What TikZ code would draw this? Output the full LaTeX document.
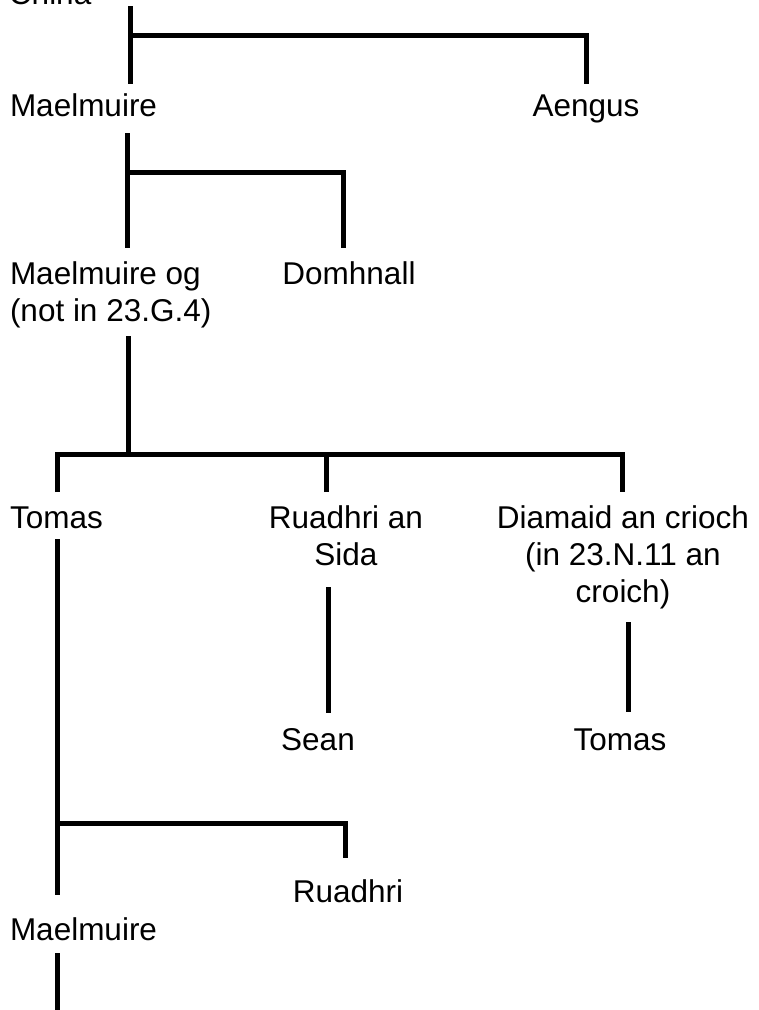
\documentclass[tikz,border=0pt]{standalone}
\usepackage{fontspec}
\setmainfont{Liberation Sans}
\newfontfamily\persfont{Liberation Sans}
\begin{document}
\begin{tikzpicture}[x=1pt,y=-1pt,
  lbl/.style={inner sep=0pt, outer sep=0pt, font=\persfont\fontsize{31.5}{37}\selectfont},
  tie/.style={line width=5pt, black}]
\useasboundingbox (0,0) rectangle (759,1010);
% people
\node[lbl, anchor=base west] (china) at (9,4) {China};
\node[lbl, anchor=base west] (mael1) at (10,116) {Maelmuire};
\node[lbl, anchor=base] (aengus) at (586,116) {Aengus};
\node[lbl, anchor=base west] (maelog) at (10,284) {\begin{tabular}[t]{@{}l@{}}Maelmuire og\\(not in 23.G.4)\end{tabular}};
\node[lbl, anchor=base] (domh) at (349,284) {Domhnall};
\node[lbl, anchor=base west] (tomas1) at (10,528) {Tomas};
\node[lbl, anchor=base] (ruasida) at (346,528) {\begin{tabular}[t]{@{}c@{}}Ruadhri an\\Sida\end{tabular}};
\node[lbl, anchor=base] (diam) at (623,528) {\begin{tabular}[t]{@{}c@{}}Diamaid an crioch\\(in 23.N.11 an\\croich)\end{tabular}};
\node[lbl, anchor=base] (sean) at (318,750) {Sean};
\node[lbl, anchor=base] (tomas2) at (620,750) {Tomas};
\node[lbl, anchor=base] (ruadhri) at (348,902) {Ruadhri};
\node[lbl, anchor=base west] (mael2) at (10,940) {Maelmuire};
% connector points
\coordinate (a1) at (130,6);   \coordinate (a2) at (130,84);
\coordinate (aj) at (130,35);  \coordinate (ae) at (586,84);
\coordinate (b1) at (127,133); \coordinate (b2) at (127,248);
\coordinate (bj) at (127,172); \coordinate (be) at (343,248);
\coordinate (c1) at (128,336); \coordinate (cj) at (128,454);
\coordinate (ct) at (57,492);  \coordinate (cr) at (326,492);
\coordinate (cd) at (622,492);
\coordinate (d1) at (328,587); \coordinate (d2) at (328,713);
\coordinate (e1) at (628,622); \coordinate (e2) at (628,712);
\coordinate (f1) at (57,539);  \coordinate (f2) at (57,895);
\coordinate (fj) at (57,823);  \coordinate (fe) at (345,858);
\coordinate (g1) at (57,953);  \coordinate (g2) at (57,1012);
% lines
\draw[tie] (a1) -- (a2);
\draw[tie] (aj) -| (ae);
\draw[tie] (b1) -- (b2);
\draw[tie] (bj) -| (be);
\draw[tie] (c1) -- (cj);
\draw[tie] (ct) |- (cj) -| (cd);
\draw[tie] (cr) -- (cr |- cj);
\draw[tie] (d1) -- (d2);
\draw[tie] (e1) -- (e2);
\draw[tie] (f1) -- (f2);
\draw[tie] (fj) -| (fe);
\draw[tie] (g1) -- (g2);
\end{tikzpicture}
\end{document}
